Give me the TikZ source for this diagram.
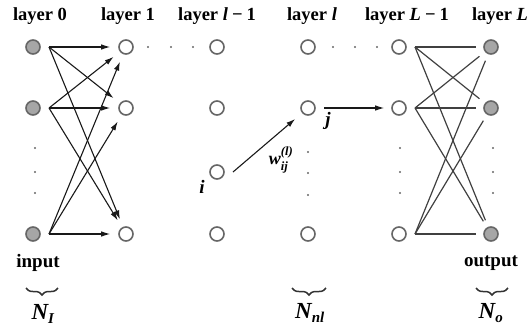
\documentclass[tikz,border=0pt]{standalone}
\usepackage{amsmath}
\usepackage{fontspec}
\setmainfont{Liberation Serif}
\usetikzlibrary{arrows.meta,decorations.pathreplacing}
\begin{document}
\begin{tikzpicture}[x=1pt,y=-1pt,
  neuron/.style={circle,draw=black!60,line width=1.6pt,fill=white,minimum size=14pt,inner sep=0pt},
  ionode/.style={neuron,fill=black!35},
  arr/.style={draw=black!90,line width=1.1pt,-{Latex[length=9pt,width=5.5pt]},shorten >=8pt},
  ln/.style={draw=black!75,line width=1.2pt,shorten >=7pt},
  dotmark/.style={circle,fill=black!60,inner sep=0pt,minimum size=2.4pt},
  title/.style={font=\fontsize{18.5}{20}\selectfont\bfseries,inner sep=0pt},
  lab/.style={font=\fontsize{19}{21}\selectfont\bfseries,inner sep=0pt},
  nlab/.style={font=\fontsize{23}{25}\selectfont\bfseries\itshape,inner sep=0pt},
  ubrace/.style={decorate,decoration={brace,mirror,amplitude=7pt},draw=black!80,line width=1.5pt}]
\useasboundingbox (0,0) rectangle (528,333);
% titles
\node[title] (t0) at (40,16) {layer 0};
\node[title] (t1) at (128,16) {layer 1};
\node[title] (t2) at (217,16) {layer \textit{l}\hspace{0.22em}−\hspace{0.22em}1};
\node[title] (t3) at (312,16) {layer \textit{l}};
\node[title] (t4) at (407,16) {layer \textit{L}\hspace{0.22em}−\hspace{0.22em}1};
\node[title] (t5) at (500,16) {layer \textit{L}};
% layer 0
\node[ionode] (a1) at (33,47) {};
\node[ionode] (a2) at (33,108) {};
\node[ionode] (a3) at (33,234) {};
% layer 1
\node[neuron] (b1) at (126,47) {};
\node[neuron] (b2) at (126,108) {};
\node[neuron] (b3) at (126,234) {};
% layer l-1
\node[neuron] (c1) at (217,47) {};
\node[neuron] (c2) at (217,108) {};
\node[neuron] (ci) at (217,172) {};
\node[neuron] (c3) at (217,234) {};
% layer l
\node[neuron] (d1) at (308,47) {};
\node[neuron] (dj) at (308,108) {};
\node[neuron] (d3) at (308,234) {};
% layer L-1
\node[neuron] (e1) at (399,47) {};
\node[neuron] (e2) at (399,108) {};
\node[neuron] (e3) at (399,234) {};
% layer L
\node[ionode] (f1) at (491,47) {};
\node[ionode] (f2) at (491,108) {};
\node[ionode] (f3) at (491,234) {};
% start points
\foreach \n in {a1,a2,a3,e1,e2,e3,ci,dj}{\coordinate (\n s) at ([xshift=16pt]\n.center);}
% layer 0 -> layer 1
\foreach \s in {a1,a2,a3}{\foreach \t in {b1,b2,b3}{\draw[arr] (\s s) -- (\t);}}
% layer L-1 -> layer L
\foreach \s in {e1,e2,e3}{\foreach \t in {f1,f2,f3}{\draw[ln] (\s s) -- (\t);}}
% i -> j, j -> L-1
\draw[arr,shorten >=9pt] (cis) -- (dj);
\draw[arr,shorten >=7pt] (djs) -- (e2);
% dots
\foreach \x/\y [count=\k] in {35/148,35/172,35/193,308/152,308/173,308/195,400/148,400/172,400/193,493/148,493/172,493/193,148/47,171/47,193/47,333/47,355/47,377/47}
  {\node[dotmark] (dot\k) at (\x,\y) {};}
% labels
\node[lab] (li) at (202,187) {\textit{i}};
\node[lab] (lj) at (328,121) {\textit{j}};
\node[lab,font=\fontsize{18}{20}\selectfont\bfseries] (lw) at (281,160) {$\textit{w}^{\textit{(l)}}_{\textit{ij}}$};
\node[lab] (lin) at (38,263) {input};
\node[lab] (lout) at (491,263) {output};
% braces
\coordinate (bI1) at (26,288); \coordinate (bI2) at (58,288);
\coordinate (bN1) at (292,288); \coordinate (bN2) at (326,288);
\coordinate (bO1) at (476,288); \coordinate (bO2) at (508,288);
\draw[ubrace] (bI1) -- (bI2);
\draw[ubrace] (bN1) -- (bN2);
\draw[ubrace] (bO1) -- (bO2);
\node[nlab] (nI) at (43,314) {N\textsubscript{\fontsize{15}{15}\selectfont I}};
\node[nlab] (nN) at (310,313) {N\textsubscript{\fontsize{15}{15}\selectfont nl}};
\node[nlab] (nO) at (491,313) {N\textsubscript{\fontsize{15}{15}\selectfont o}};
\end{tikzpicture}
\end{document}
